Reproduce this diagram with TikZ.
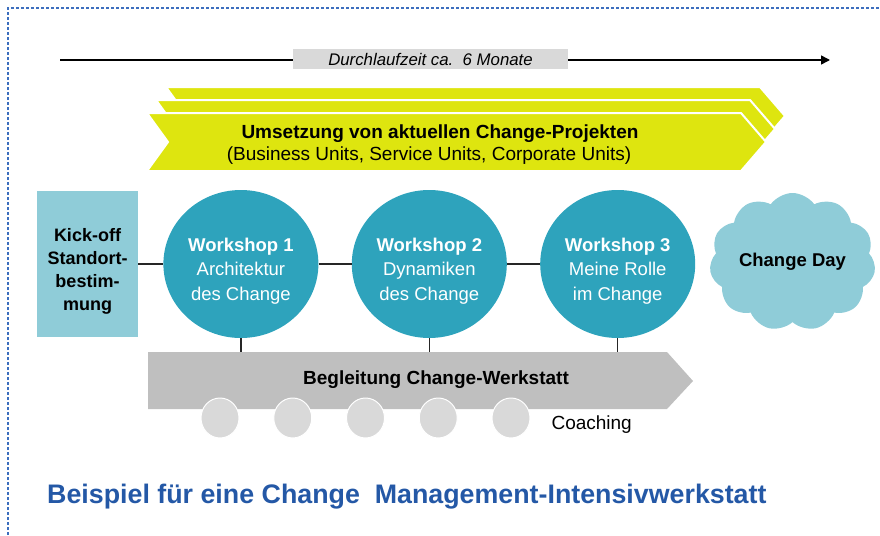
\documentclass[tikz,border=0pt]{standalone}
\usepackage{fontspec}
\setmainfont{Liberation Sans}
\usepackage{tikz}
\usetikzlibrary{positioning, arrows.meta, shapes.geometric, shapes.symbols}
\usepackage{xcolor}

\definecolor{frameblue}{RGB}{60,110,190}
\definecolor{chevyellow}{RGB}{222,229,15}
\definecolor{wsteal}{RGB}{46,163,188}
\definecolor{lightteal}{RGB}{143,204,216}
\definecolor{bargray}{RGB}{191,191,191}
\definecolor{dotgray}{RGB}{217,217,217}
\definecolor{titleblue}{RGB}{36,88,166}

\newcommand{\wsfont}{\fontsize{18.5}{24.5}\selectfont}
\newcommand{\bodyfont}{\fontsize{19}{21}\selectfont}
\newcommand{\topline}{\rule{0pt}{27pt}}

\begin{document}
\begin{tikzpicture}[x=1pt, y=-1pt,
    workshop/.style={ellipse, fill=wsteal, text=white, minimum width=155pt,
        minimum height=148pt, inner sep=0pt, align=center, font=\wsfont},
    link/.style={line width=1.3pt, black!85},
    chevron/.style={fill=chevyellow, draw=white, line width=2pt},
    coachdot/.style={ellipse, fill=dotgray, draw=white, line width=1pt,
        minimum width=38pt, minimum height=40pt, inner sep=0pt}]
    \useasboundingbox (0,0) rectangle (880,535);

    % Frame (top and left only)
    \draw[frameblue, line width=1.2pt, dash pattern=on 3pt off 2pt]
        (8,535) -- (8,8) -- (880,8);

    % Timeline
    \coordinate (tstart) at (60,60);
    \coordinate (tend) at (830,60);
    \draw[line width=1.5pt, -{Triangle[length=9pt, width=9pt]}] (tstart) -- (tend);
    \node[fill=dotgray, minimum width=275pt, minimum height=20pt, inner sep=0pt,
        font=\fontsize{16.8}{20}\selectfont\itshape] (durch) at (430.5,59)
        {Durchlaufzeit ca.\ \ 6 Monate};

    % Change projects (three stacked layers)
    \foreach \dx/\dy in {19/-26, 9/-13, 0/0} {
        \begin{scope}[shift={(\dx,\dy)}]
            \fill[chevron] (147,113) -- (741,113) -- (766,142) -- (741,171)
                -- (147,171) -- (168,142) -- cycle;
        \end{scope}
    }
    \node[font=\bodyfont\bfseries] (proj) at (440,134)
        {Umsetzung von aktuellen Change-Projekten};
    \node[font=\bodyfont] (units) at (429,156)
        {(Business Units, Service Units, Corporate Units)};

    % Kick-off and workshops
    \node[fill=lightteal, minimum width=101pt, minimum height=146pt, inner sep=0pt,
        align=center, font=\fontsize{18}{23}\selectfont\bfseries] (kick) at (87.5,264)
        {\topline Kick-off\\Standort-\\bestim-\\mung};
    \node[workshop, right=25pt of kick] (w1)
        {\topline\textbf{Workshop 1}\\Architektur\\des Change};
    \node[workshop, right=33pt of w1] (w2)
        {\topline\textbf{Workshop 2}\\Dynamiken\\des Change};
    \node[workshop, right=33pt of w2] (w3)
        {\topline\textbf{Workshop 3}\\Meine Rolle\\im Change};
    \node[cloud, cloud puffs=11, cloud puff arc=110, cloud ignores aspect,
        fill=lightteal, inner sep=0pt, minimum width=166pt, minimum height=138pt,
        font=\fontsize{18.5}{22}\selectfont\bfseries] (cday) at (792.5,262) {Change Day};

    \draw[link] (kick.east) -- (w1.west);
    \draw[link] (w1.east) -- (w2.west);
    \draw[link] (w2.east) -- (w3.west);

    % Accompanying workshop bar
    \fill[bargray] (148,352) -- (667,352) -- (693,381) -- (667,409) -- (148,409) -- cycle;
    \coordinate (bartop) at (148,352);
    \foreach \w in {w1,w2,w3}
        \draw[link] (\w.south) -- (\w.south |- bartop);
    \node[font=\fontsize{19}{22}\selectfont\bfseries] (beg) at (436,380)
        {Begleitung Change-Werkstatt};

    % Coaching dots
    \foreach \i in {1,...,5} {
        \pgfmathsetmacro{\cx}{220+(\i-1)*72.75}
        \node[coachdot] (c\i) at (\cx,418) {};
    }
    \node[font=\fontsize{19}{22}\selectfont, anchor=west] (coachlbl) at (548,425) {Coaching};

    % Title
    \node[anchor=west, inner sep=0pt, text=titleblue,
        font=\fontsize{26.8}{30}\selectfont\bfseries] (title) at (47,497)
        {Beispiel für eine Change~~Management-Intensivwerkstatt};
\end{tikzpicture}
\end{document}
